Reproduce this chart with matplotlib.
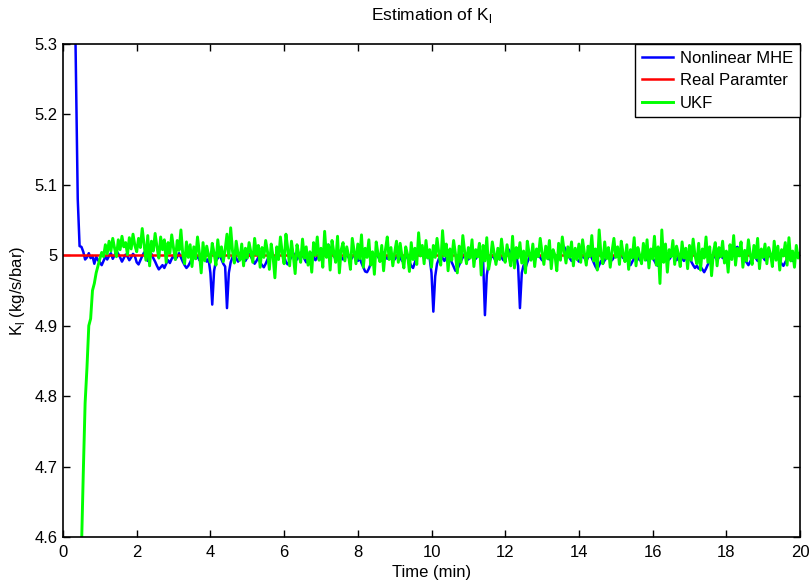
import numpy as np
import matplotlib
matplotlib.use("Agg")
import matplotlib.pyplot as plt

plt.rcParams['font.family'] = ['Liberation Sans', 'DejaVu Sans']
plt.rcParams['mathtext.fontset'] = 'custom'
plt.rcParams['mathtext.rm'] = 'Liberation Sans'

# sample times (min), 3 s sampling
dt = 0.05

# Nonlinear MHE estimate, starting at t = 0.30 min
mhe_start = 0.30
mhe = [
    5.45, 5.26, 5.08, 5.013, 5.012, 5.005, 4.994, 4.997, 5.003, 4.996, 4.999, 4.988, 4.998, 4.993,
    4.990, 4.986, 4.992, 4.998, 4.994, 4.999, 5.003, 4.995, 5.000, 5.006, 5.002, 4.997, 4.991, 4.996, 5.001, 4.998, 4.993, 4.997, 5.002, 4.999,
    4.990, 4.987, 4.993, 4.999, 5.004, 4.998, 4.992, 4.997, 5.002, 4.996, 4.991, 4.985, 4.980, 4.983, 4.986, 4.982, 4.988, 4.993, 4.989, 4.995,
    5.000, 4.994, 4.998, 5.003, 4.997, 4.991, 4.986, 4.982, 4.985, 4.990, 4.996, 5.001, 4.995, 4.999, 4.993, 4.997, 5.002, 4.996, 4.991, 4.995,
    4.975, 4.930, 4.978, 4.992, 4.996, 5.001, 4.994, 4.988, 4.984, 4.925, 4.975, 4.990, 4.997, 5.002, 4.996, 4.991, 4.995, 5.000, 4.996, 4.992,
    4.997, 5.002, 4.998, 4.993, 4.988, 4.992, 4.997, 4.990, 4.986, 4.983, 4.988, 4.994, 4.999, 5.004, 4.998, 4.993, 4.998, 5.006, 5.011, 5.007,
    4.999, 4.990, 4.987, 4.993, 4.998, 5.003, 4.998, 4.994, 4.999, 5.004, 5.000, 4.995, 4.990, 4.994, 4.999, 5.003, 4.998, 4.993, 4.997, 5.002,
    4.998, 5.003, 5.008, 5.013, 5.015, 5.010, 5.004, 4.999, 4.995, 4.999, 5.003, 4.998, 4.994, 4.998, 5.002, 4.997, 4.993, 4.997, 5.001, 4.996,
    4.992, 4.996, 4.989, 4.983, 4.977, 4.976, 4.981, 4.988, 4.994, 4.999, 5.003, 4.998, 4.994, 4.999, 5.004, 4.999, 4.995, 4.999, 5.003, 4.998,
    4.994, 4.998, 5.002, 4.997, 4.992, 4.996, 5.001, 4.996, 4.991, 4.985, 4.982, 4.990, 4.998, 5.006, 5.012, 5.008, 5.002, 4.997, 5.001, 4.996,
    4.975, 4.920, 4.970, 4.988, 4.995, 5.000, 4.996, 4.992, 4.997, 5.001, 4.996, 4.990, 4.984, 4.978, 4.980, 4.986, 4.992, 4.997, 5.002, 4.998,
    4.994, 4.998, 5.003, 4.999, 4.995, 4.999, 5.004, 4.999, 4.994, 4.915, 4.972, 4.988, 4.995, 5.000, 4.996, 4.991, 4.996, 5.001, 4.997, 4.993,
    4.998, 5.004, 5.008, 5.003, 4.998, 4.994, 4.999, 4.985, 4.925, 4.975, 4.986, 4.982, 4.990, 4.996, 5.001, 4.997, 4.993, 4.998, 5.002, 4.997,
    4.993, 4.997, 5.002, 4.998, 4.994, 4.998, 5.003, 4.999, 4.995, 5.000, 5.006, 5.011, 5.012, 5.007, 5.001, 4.996, 4.992, 4.996, 5.000, 4.995,
    4.991, 4.995, 5.000, 4.996, 4.992, 4.997, 5.001, 4.996, 4.990, 4.984, 4.980, 4.986, 4.992, 4.988, 4.993, 4.998, 5.002, 4.997, 4.993, 4.997,
    5.002, 4.998, 5.004, 5.000, 4.996, 5.000, 4.995, 4.990, 4.986, 4.991, 4.996, 5.001, 4.997, 4.993, 4.998, 5.002, 4.998, 4.993, 4.997, 5.001,
    4.996, 4.992, 4.987, 4.985, 4.989, 4.994, 4.999, 5.003, 4.998, 4.994, 4.998, 5.002, 4.997, 4.993, 4.997, 5.001, 4.996, 4.992, 4.996, 5.000,
    4.996, 4.991, 4.986, 4.982, 4.985, 4.981, 4.984, 4.980, 4.976, 4.981, 4.987, 4.993, 4.998, 5.002, 4.997, 4.993, 4.997, 5.001, 4.996, 5.000,
    5.004, 5.000, 4.996, 5.000, 5.005, 5.010, 5.012, 5.008, 5.003, 4.999, 4.994, 4.990, 4.986, 4.991, 4.996, 5.000, 4.996, 4.992, 4.996, 5.001,
    4.997, 4.993, 4.997, 5.002, 4.998, 4.994, 4.998, 5.002, 4.997, 4.993, 4.988, 4.985, 4.990, 4.995, 5.000, 4.996, 4.992, 4.996, 5.001, 4.997,
    4.999,
]

# UKF estimate, starting at t = 0.50 min
ukf_start = 0.50
ukf = [
    4.58, 4.69, 4.79, 4.84, 4.90, 4.91, 4.95, 4.96, 4.975, 4.985,
    4.995, 5.004, 4.998, 5.015, 5.002, 5.020, 5.006, 5.024, 5.010, 4.998, 5.022, 5.008, 5.027, 5.012, 5.018, 5.001, 5.025, 5.009, 5.030, 5.014,
    5.005, 5.024, 5.011, 5.038, 5.016, 4.993, 5.028, 4.985, 5.020, 5.006, 5.031, 5.012, 4.996, 5.026, 5.008, 5.022, 4.990, 5.018, 5.003, 5.029,
    5.010, 4.994, 5.021, 5.007, 5.036, 5.002, 4.988, 5.019, 4.997, 5.015, 4.984, 5.012, 4.995, 5.026, 5.004, 4.975, 5.018, 4.992, 5.013, 5.000,
    4.990, 5.017, 5.003, 4.986, 5.022, 4.998, 5.012, 4.991, 5.008, 5.030, 4.996, 5.039, 5.006, 4.989, 5.020, 5.002, 4.993, 5.016, 4.985, 5.010,
    4.996, 5.018, 5.004, 4.990, 5.024, 5.001, 5.014, 4.983, 5.011, 4.997, 5.021, 5.005, 4.980, 5.016, 4.998, 4.968, 5.012, 4.994, 5.026, 5.003,
    4.988, 5.030, 5.009, 4.985, 5.020, 4.999, 4.974, 5.015, 5.001, 4.990, 5.023, 4.996, 5.012, 4.986, 5.005, 4.976, 5.018, 5.000, 5.026, 4.993,
    5.010, 4.983, 5.034, 4.997, 5.015, 4.979, 5.021, 5.004, 4.990, 5.027, 4.975, 5.008, 5.018, 4.992, 5.012, 4.999, 4.980, 5.024, 5.006, 4.988,
    5.016, 4.995, 5.029, 4.983, 5.010, 4.997, 5.022, 4.986, 5.005, 4.973, 5.019, 5.001, 4.991, 5.014, 4.978, 5.008, 5.026, 4.994, 5.011, 4.985,
    5.004, 5.020, 4.990, 5.017, 4.998, 4.982, 5.012, 5.001, 4.977, 5.018, 4.994, 5.010, 4.987, 5.032, 4.999, 5.014, 4.988, 5.021, 4.996, 5.008,
    4.983, 5.014, 4.997, 5.024, 5.003, 4.986, 5.035, 4.999, 5.016, 4.978, 5.009, 4.993, 5.021, 5.002, 4.975, 5.013, 4.990, 5.028, 5.005, 4.988,
    5.011, 4.996, 5.022, 4.984, 5.008, 4.998, 5.017, 4.972, 5.014, 4.992, 5.025, 4.980, 4.995, 5.019, 5.003, 4.987, 5.010, 4.994, 5.023, 5.001,
    4.990, 5.015, 4.999, 4.985, 5.027, 4.982, 5.011, 4.996, 5.018, 4.989, 5.006, 4.975, 5.020, 5.002, 4.993, 5.016, 4.984, 5.009, 4.998, 5.024,
    5.004, 4.987, 5.013, 4.995, 5.021, 4.981, 5.008, 5.000, 4.978, 5.017, 4.993, 5.026, 5.006, 4.989, 5.012, 4.997, 5.019, 4.985, 5.010, 4.994,
    5.016, 4.990, 5.022, 5.003, 4.986, 5.013, 4.998, 5.028, 4.992, 5.009, 4.979, 5.036, 5.001, 4.988, 5.019, 4.995, 5.011, 4.983, 5.006, 5.024,
    4.997, 5.012, 4.987, 5.020, 5.002, 4.991, 5.015, 4.980, 5.008, 4.996, 5.025, 4.985, 5.011, 5.000, 4.988, 5.017, 4.993, 5.022, 4.982, 5.009,
    4.995, 5.027, 4.986, 5.012, 4.960, 5.036, 4.990, 5.016, 4.976, 5.008, 4.998, 5.021, 4.987, 5.013, 5.002, 4.984, 5.019, 4.996, 5.010, 4.981,
    5.014, 4.993, 5.023, 5.000, 4.988, 5.017, 4.979, 5.009, 4.996, 5.026, 4.990, 5.012, 4.971, 5.004, 5.018, 4.985, 5.011, 4.998, 5.020, 4.989,
    5.006, 4.976, 5.015, 4.994, 5.028, 4.986, 5.010, 4.999, 5.019, 4.983, 5.007, 4.992, 5.022, 5.001, 4.987, 5.014, 4.996, 5.024, 4.981, 5.009,
    4.997, 5.016, 4.988, 5.011, 5.002, 4.984, 5.020, 4.993, 5.013, 4.979, 5.008, 4.999, 5.018, 4.986, 5.025, 4.992, 5.006, 4.983, 5.014, 4.996,
    5.003,
]

real_t = [0, 20]
real_val = [5.0, 5.0]

t_mhe = mhe_start + dt * np.arange(len(mhe))
t_ukf = ukf_start + dt * np.arange(len(ukf))

fig = plt.figure(figsize=(8.11, 5.81), dpi=100)
ax = fig.add_axes([63/811, 44/581, 737/811, 493/581])

ax.plot(t_mhe, mhe, color=(0, 0, 1), lw=1.8, label='Nonlinear MHE')
ax.plot(real_t, real_val, color=(1, 0, 0), lw=1.8, label='Real Paramter')
ax.plot(t_ukf, ukf, color=(0, 1, 0), lw=2.1, label='UKF')

ax.set_xlim(0, 20)
ax.set_ylim(4.6, 5.3)
ax.set_xticks(np.arange(0, 21, 2))
yt = [4.6, 4.7, 4.8, 4.9, 5.0, 5.1, 5.2, 5.3]
ax.set_yticks(yt)
ax.set_yticklabels(['4.6', '4.7', '4.8', '4.9', '5', '5.1', '5.2', '5.3'])
ax.tick_params(direction='in', length=5, width=1, top=True, right=True, labelsize=12)
ax.tick_params(axis='x', pad=6)
ax.tick_params(axis='y', pad=4)
for s in ax.spines.values():
    s.set_linewidth(1.2)

ax.set_title(r'Estimation of K$_\mathregular{l}$', fontsize=12.5, pad=17)
ax.set_xlabel('Time (min)', fontsize=12, labelpad=3)
ax.set_ylabel(r'K$_\mathregular{l}$ (kg/s/bar)', fontsize=12, labelpad=5)

leg = ax.legend(loc='upper right', borderaxespad=0, fancybox=False, framealpha=1,
                edgecolor='black', fontsize=12, handlelength=1.9, handletextpad=0.4,
                borderpad=0.4, labelspacing=0.45)
leg.get_frame().set_linewidth(1)

fig.savefig('out.png', dpi=100)
